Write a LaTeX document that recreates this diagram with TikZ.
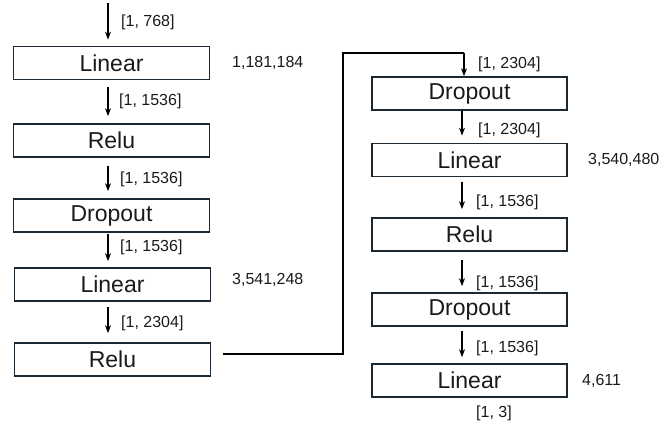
\documentclass[tikz,border=0pt]{standalone}
\usepackage{fontspec}
\setmainfont{Liberation Sans}
\usetikzlibrary{arrows.meta}
\definecolor{boxline}{HTML}{1C2833}
\definecolor{txt}{HTML}{1A1A1A}
\tikzset{
  layer/.style={draw=boxline, line width=1.7pt, minimum height=33pt, inner sep=0pt,
    font=\fontsize{23}{25}\selectfont, text=txt},
  lbox/.style={layer, minimum width=196pt},
  rbox/.style={layer, minimum width=195pt},
  dim/.style={anchor=west, inner sep=0pt, font=\fontsize{16}{18}\selectfont, text=txt},
  arr/.style={draw=black, line width=1.1pt, -{Stealth[length=8pt,width=6pt]}},
  link/.style={draw=black, line width=1.4pt}
}
\begin{document}
\begin{tikzpicture}[x=1pt,y=-1pt]
\useasboundingbox (0,0) rectangle (660,430);
% left column
\node[lbox] (l1) at (111.5,63) {Linear};
\node[lbox] (l2) at (111.5,140.5) {Relu};
\node[lbox] (l3) at (111.5,215.5) {Dropout};
\node[lbox] (l4) at (112.5,284.5) {Linear};
\node[lbox] (l5) at (112.5,359.5) {Relu};
% right column
\node[rbox] (r1) at (469.5,93.5) {Dropout};
\node[rbox] (r2) at (469.5,160) {Linear};
\node[rbox] (r3) at (469.5,234.5) {Relu};
\node[rbox] (r4) at (469.5,309.5) {Dropout};
\node[rbox] (r5) at (469.5,380.5) {Linear};
% input
\coordinate (in) at (108,3);
\draw[arr] (in) -- ([xshift=-3.5pt,yshift=6pt]l1.north);
\draw[arr] ([xshift=-3.5pt,yshift=-7pt]l1.south) -- ([xshift=-3.5pt,yshift=7pt]l2.north);
\draw[arr] ([xshift=-3.5pt,yshift=-8pt]l2.south) -- ([xshift=-3.5pt,yshift=7pt]l3.north);
\draw[arr] ([xshift=-3.5pt,yshift=-1pt]l3.south) -- ([xshift=-4.5pt,yshift=6pt]l4.north);
\draw[arr] ([xshift=-4.5pt,yshift=-5pt]l4.south) -- ([xshift=-4.5pt,yshift=9pt]l5.north);
% link between columns
\coordinate (c1) at (343,354);
\coordinate (c2) at (343,53);
\coordinate (c3) at (464,53);
\draw[link] ([xshift=12pt,yshift=5.5pt]l5.east) -- (c1) -- (c2) -- (c3);
\draw[arr] (c3) -- (r1.north -| c3);
% right arrows
\draw[arr] ([xshift=-7.5pt]r1.south) -- ([xshift=-7.5pt,yshift=7pt]r2.north);
\draw[arr] ([xshift=-7.5pt,yshift=-5pt]r2.south) -- ([xshift=-7.5pt,yshift=8pt]r3.north);
\draw[arr] ([xshift=-7.5pt,yshift=-8pt]r3.south) -- ([xshift=-7.5pt,yshift=6pt]r4.north);
\draw[arr] ([xshift=-7.5pt,yshift=-4pt]r4.south) -- ([xshift=-7.5pt,yshift=6pt]r5.north);
% dimension labels
\node[dim] (d1) at (121,22) {[1, 768]};
\node[dim] (d2) at (119,101) {[1, 1536]};
\node[dim] (d3) at (120,179) {[1, 1536]};
\node[dim] (d4) at (120,247) {[1, 1536]};
\node[dim] (d5) at (121,323) {[1, 2304]};
\node[dim] (d6) at (478,64) {[1, 2304]};
\node[dim] (d7) at (478,130) {[1, 2304]};
\node[dim] (d8) at (476,202) {[1, 1536]};
\node[dim] (d9) at (476,283) {[1, 1536]};
\node[dim] (d10) at (476,348) {[1, 1536]};
\node[dim] (d11) at (476,413) {[1, 3]};
% parameter counts
\node[dim] (p1) at (232,63) {1,181,184};
\node[dim] (p2) at (232,280) {3,541,248};
\node[dim] (p3) at (588,160) {3,540,480};
\node[dim] (p4) at (582,381) {4,611};
\end{tikzpicture}
\end{document}
